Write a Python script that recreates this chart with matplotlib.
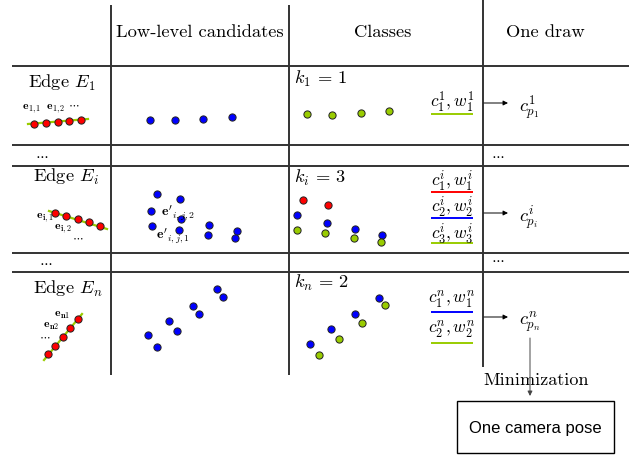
import matplotlib
matplotlib.use('Agg')
import matplotlib.pyplot as plt
from matplotlib.patches import Rectangle

plt.rcParams['mathtext.fontset'] = 'cm'
plt.rcParams['font.family'] = ['cmr10', 'DejaVu Serif']
plt.rcParams['axes.unicode_minus'] = False

RED = '#ff0000'
BLUE = '#0000ff'
GREEN = '#99cc00'
GRID = '#333333'
FS = 13.3

# table layout (pixel space of the picture)
header_cols = ['Low-level candidates', 'Classes', 'One draw']
header_x = [200, 383, 545]
hlines_y = [66, 145, 166, 253, 272]
vlines = [(111, 5, 375), (289, 5, 375), (483, 0, 367)]

# row labels
edge_labels = ['Edge $E_1$', 'Edge $E_i$', 'Edge $E_n$']
edge_label_xy = [(62, 83), (66, 177), (68, 289)]
k_labels = [r'$k_1 \,=\, 1$', r'$k_i \,=\, 3$', r'$k_n \,=\, 2$']
k_label_y = [79, 178, 283]

# edge samples (red dots on green segment)
edge1_x = [34, 46, 58, 69, 81]
edge1_y = [124, 123, 122, 121, 120]
edge1_seg = ([28, 88], [124, 119])
edgei_x = [55, 66, 78, 89, 100]
edgei_y = [213, 216, 219, 222, 226]
edgei_seg = ([49, 107], [211, 229])
edgen_x = [48, 55, 63, 70, 78]
edgen_y = [354, 346, 337, 328, 319]
edgen_seg = ([44, 82], [360, 314])

# low-level candidates (blue)
cand1_x = [150, 175, 203, 232]
cand1_y = [120, 120, 118.5, 116.5]
candi_x = [157, 180, 151, 181, 152, 179, 209, 208, 237, 235]
candi_y = [194, 199, 211, 219, 226, 230, 225, 235, 231, 238]
candn_x = [217, 223, 193, 199, 169, 177, 148, 157]
candn_y = [289, 297, 306, 314, 321, 331, 335, 347]

# classes
cls1_green_x = [307, 332, 361, 389]
cls1_green_y = [114, 115, 113, 111]
clsi_red_x = [303, 328]
clsi_red_y = [200, 205]
clsi_blue_x = [297, 327, 355, 382]
clsi_blue_y = [215, 223, 229, 235]
clsi_green_x = [297, 325, 354, 381]
clsi_green_y = [230, 233, 238, 242]
clsn_blue_x = [379, 355, 331, 310]
clsn_blue_y = [298, 314, 329, 344]
clsn_green_x = [385, 362, 339, 319]
clsn_green_y = [305, 323, 339, 355]

# class parameters with their underline colours
class_labels = ['$c_1^1, w_1^1$',
                '$c_1^i, w_1^i$', '$c_2^i, w_2^i$', '$c_3^i, w_3^i$',
                '$c_1^n, w_1^n$', '$c_2^n, w_2^n$']
class_label_y = [102, 181, 207, 234, 299, 329]
class_line_y = [114, 192, 218, 243, 312, 343]
class_colors = [GREEN, RED, BLUE, GREEN, BLUE, GREEN]

draw_labels = ['$c_{p_1}^1$', '$c_{p_i}^i$', '$c_{p_n}^n$']
draw_y = [103, 213, 317]

fig = plt.figure(figsize=(6.29, 4.57), dpi=100)
ax = fig.add_axes([0, 0, 1, 1])
ax.set_xlim(0, 629)
ax.set_ylim(457, 0)
ax.axis('off')

# grid
for y in hlines_y:
    ax.plot([12, 629], [y, y], color=GRID, lw=1.4, solid_capstyle='butt')
for x, y0, y1 in vlines:
    ax.plot([x, x], [y0, y1], color=GRID, lw=1.4, solid_capstyle='butt')

for txt, x in zip(header_cols, header_x):
    ax.text(x, 32, txt, ha='center', va='center', fontsize=FS)

for txt, (x, y) in zip(edge_labels, edge_label_xy):
    ax.text(x, y, txt, ha='center', va='center', fontsize=FS)

for txt, y in zip(k_labels, k_label_y):
    ax.text(294, y, txt, ha='left', va='center', fontsize=FS)

# "..." rows
for x, y in [(42, 156), (498, 156), (46, 263), (498, 260)]:
    ax.text(x, y, r'$\cdots$', ha='center', va='center', fontsize=10)

dot = dict(linestyle='', marker='o', markersize=5.2, markeredgecolor='#222222',
           markeredgewidth=0.7)

# edges
for seg, xs, ys in [(edge1_seg, edge1_x, edge1_y),
                    (edgei_seg, edgei_x, edgei_y),
                    (edgen_seg, edgen_x, edgen_y)]:
    ax.plot(seg[0], seg[1], color=GREEN, lw=1.6, zorder=2)
    ax.plot(xs, ys, color=RED, zorder=3, **dot)

small = dict(fontsize=8.5, ha='left', va='center')
ax.text(22, 109, r'$\mathbf{e}_{\mathbf{1,1}}$', **small)
ax.text(46, 109, r'$\mathbf{e}_{\mathbf{1,2}}\ \cdots$', **small)
ax.text(36, 218, r'$\mathbf{e}_{\mathbf{i,1}}$', **small)
ax.text(54, 229, r'$\mathbf{e}_{\mathbf{i,2}}$', **small)
ax.text(72, 238, r'$\cdots$', **small)
ax.text(54, 315, r'$\mathbf{e}_{\mathbf{n1}}$', **small)
ax.text(43, 326, r'$\mathbf{e}_{\mathbf{n2}}$', **small)
ax.text(39, 337, r'$\cdots$', **small)

# candidates
for xs, ys in [(cand1_x, cand1_y), (candi_x, candi_y), (candn_x, candn_y)]:
    ax.plot(xs, ys, color=BLUE, **dot)
ax.text(161, 213, r"$\mathbf{e}'_{i,j,2}$", fontsize=10, ha='left', va='center')
ax.text(156, 236, r"$\mathbf{e}'_{i,j,1}$", fontsize=10, ha='left', va='center')

# classes
for xs, ys, c in [(cls1_green_x, cls1_green_y, GREEN),
                  (clsi_red_x, clsi_red_y, RED),
                  (clsi_blue_x, clsi_blue_y, BLUE),
                  (clsi_green_x, clsi_green_y, GREEN),
                  (clsn_blue_x, clsn_blue_y, BLUE),
                  (clsn_green_x, clsn_green_y, GREEN)]:
    ax.plot(xs, ys, color=c, **dot)

for txt, y, ly, c in zip(class_labels, class_label_y, class_line_y, class_colors):
    ax.text(452, y, txt, ha='center', va='center', fontsize=12.5)
    ax.plot([431, 473], [ly, ly], color=c, lw=1.4, solid_capstyle='butt')

# one draw
arrow = dict(arrowstyle='-|>', color='black', lw=0.7, mutation_scale=7,
             shrinkA=0, shrinkB=0)
for txt, y in zip(draw_labels, draw_y):
    ax.annotate('', xy=(508, y), xytext=(484, y), arrowprops=arrow)
    ax.text(519, y + 5, txt, ha='left', va='center', fontsize=FS)

# minimization to pose
ax.annotate('', xy=(530, 396), xytext=(530, 338),
            arrowprops=dict(arrowstyle='-|>', color='#444444', lw=0.7,
                            mutation_scale=7, shrinkA=0, shrinkB=0))
ax.text(536, 380, 'Minimization', ha='center', va='center', fontsize=13)
ax.add_patch(Rectangle((457, 401), 157, 52, fill=False, edgecolor='black', lw=1.0))
ax.text(535, 428, 'One camera pose', ha='center', va='center', fontsize=12,
        family='Liberation Sans')

fig.savefig('out.png', dpi=100)
